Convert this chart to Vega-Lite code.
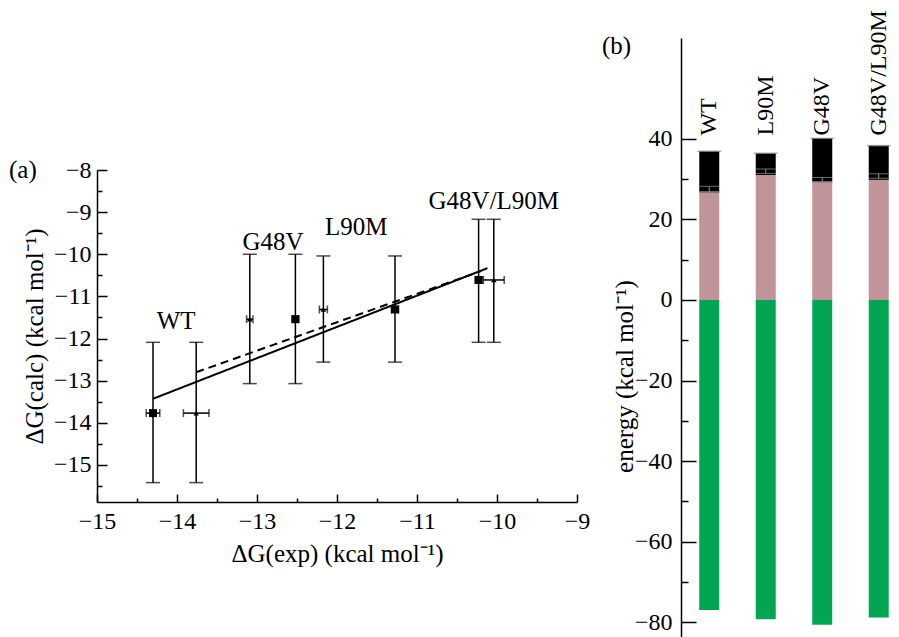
{
  "$schema": "https://vega.github.io/schema/vega-lite/v6.json",
  "background": "white",
  "padding": {"left": 8, "top": 10, "right": 0, "bottom": 0},
  "spacing": 11,
  "config": {
    "view": {"stroke": null},
    "font": "Liberation Serif",
    "axis": {
      "labelFont": "Liberation Serif", "labelFontSize": 24, "labelColor": "black",
      "titleFont": "Liberation Serif", "titleFontSize": 25, "titleFontWeight": "normal", "titleColor": "black",
      "domainColor": "black", "tickColor": "black", "domainWidth": 1.5, "tickWidth": 1.5,
      "grid": false, "labelFlush": false, "labelOverlap": false, "tickCount": 100
    },
    "text": {"font": "Liberation Serif", "fontSize": 25, "color": "black"}
  },
  "datasets": {
    "points": [
      {"variant": "WT", "shape": "square", "exp": -14.30, "calc": -13.77, "calc_lo": -15.42, "calc_hi": -12.09, "exp_lo": -14.385, "exp_hi": -14.215},
      {"variant": "WT", "shape": "triangle", "exp": -13.76, "calc": -13.77, "calc_lo": -15.42, "calc_hi": -12.09, "exp_lo": -13.92, "exp_hi": -13.60},
      {"variant": "G48V", "shape": "triangle", "exp": -13.09, "calc": -11.54, "calc_lo": -13.07, "calc_hi": -10.0, "exp_lo": -13.13, "exp_hi": -13.05},
      {"variant": "G48V", "shape": "square", "exp": -12.52, "calc": -11.54, "calc_lo": -13.07, "calc_hi": -10.0, "exp_lo": -12.56, "exp_hi": -12.48},
      {"variant": "L90M", "shape": "triangle", "exp": -12.17, "calc": -11.31, "calc_lo": -12.56, "calc_hi": -10.04, "exp_lo": -12.22, "exp_hi": -12.12},
      {"variant": "L90M", "shape": "square", "exp": -11.275, "calc": -11.31, "calc_lo": -12.56, "calc_hi": -10.04, "exp_lo": -11.32, "exp_hi": -11.23},
      {"variant": "G48V/L90M", "shape": "square", "exp": -10.23, "calc": -10.61, "calc_lo": -12.09, "calc_hi": -9.17, "exp_lo": -10.27, "exp_hi": -10.19},
      {"variant": "G48V/L90M", "shape": "triangle", "exp": -10.04, "calc": -10.61, "calc_lo": -12.09, "calc_hi": -9.17, "exp_lo": -10.17, "exp_hi": -9.91}
    ],
    "fits": [
      {"fit": "solid", "exp": -14.30, "calc": -13.43},
      {"fit": "solid", "exp": -10.12, "calc": -10.33},
      {"fit": "dashed", "exp": -13.76, "calc": -12.80},
      {"fit": "dashed", "exp": -10.20, "calc": -10.40}
    ],
    "labelsA": [
      {"text": "WT", "exp": -14.01, "calc": -11.58},
      {"text": "G48V", "exp": -12.80, "calc": -9.71},
      {"text": "L90M", "exp": -11.76, "calc": -9.36},
      {"text": "G48V/L90M", "exp": -10.04, "calc": -8.74}
    ],
    "bars": [
      {"variant": "WT", "pos": 1, "green": -76.9, "pink": 26.7, "err_lo": 26.9, "err_hi": 28.2, "top": 36.9},
      {"variant": "L90M", "pos": 2, "green": -79.2, "pink": 31.0, "err_lo": 31.4, "err_hi": 32.5, "top": 36.4},
      {"variant": "G48V", "pos": 3, "green": -80.6, "pink": 29.2, "err_lo": 29.4, "err_hi": 30.4, "top": 40.1},
      {"variant": "G48V/L90M", "pos": 4, "green": -78.8, "pink": 29.8, "err_lo": 30.2, "err_hi": 31.3, "top": 38.3}
    ]
  },
  "hconcat": [
    {
      "spacing": 10,
      "vconcat": [
        {
          "width": 480,
          "height": 110,
          "data": {"values": [{}]},
          "mark": {"type": "text", "text": ""},
          "encoding": {}
        },
        {
          "width": 480,
          "height": 332,
          "layer": [
            {
              "data": {"name": "points"},
              "mark": {"type": "rule", "color": "black", "strokeWidth": 1.5},
              "encoding": {
                "x": {"field": "exp", "type": "quantitative",
                  "scale": {"domain": [-15, -9], "nice": false, "zero": false, "padding": 0},
                  "axis": {
                    "title": "ΔG(exp) (kcal mol⁻¹)",
                    "format": ".0f",
                    "values": [-15, -14.5, -14, -13.5, -13, -12.5, -12, -11.5, -11, -10.5, -10, -9.5, -9],
                    "labelExpr": "round(datum.value) == datum.value ? datum.label : ''",
                    "tickSize": {"condition": {"test": "round(datum.value) == datum.value", "value": -8}, "value": -4},
                    "labelPadding": 15,
                    "titlePadding": 4
                  }},
                "y": {"field": "calc_lo", "type": "quantitative",
                  "scale": {"domain": [-15.88, -8], "nice": false, "zero": false, "padding": 0},
                  "axis": {
                    "title": "ΔG(calc) (kcal mol⁻¹)",
                    "format": ".0f",
                    "values": [-15.5, -15, -14.5, -14, -13.5, -13, -12.5, -12, -11.5, -11, -10.5, -10, -9.5, -9, -8.5, -8],
                    "labelExpr": "round(datum.value) == datum.value ? datum.label : ''",
                    "tickSize": {"condition": {"test": "round(datum.value) == datum.value", "value": -10}, "value": -5},
                    "labelPadding": 16,
                    "titlePadding": 6
                  }},
                "y2": {"field": "calc_hi"}
              }
            },
            {
              "data": {"name": "points"},
              "mark": {"type": "tick", "orient": "horizontal", "size": 14, "thickness": 1.5, "color": "black"},
              "encoding": {"x": {"field": "exp", "type": "quantitative"}, "y": {"field": "calc_lo", "type": "quantitative"}}
            },
            {
              "data": {"name": "points"},
              "mark": {"type": "tick", "orient": "horizontal", "size": 14, "thickness": 1.5, "color": "black"},
              "encoding": {"x": {"field": "exp", "type": "quantitative"}, "y": {"field": "calc_hi", "type": "quantitative"}}
            },
            {
              "data": {"name": "points"},
              "mark": {"type": "rule", "color": "black", "strokeWidth": 1.5},
              "encoding": {"x": {"field": "exp_lo", "type": "quantitative"}, "x2": {"field": "exp_hi"}, "y": {"field": "calc", "type": "quantitative"}}
            },
            {
              "data": {"name": "points"},
              "mark": {"type": "tick", "orient": "vertical", "size": 8, "thickness": 1.5, "color": "black"},
              "encoding": {"x": {"field": "exp_lo", "type": "quantitative"}, "y": {"field": "calc", "type": "quantitative"}}
            },
            {
              "data": {"name": "points"},
              "mark": {"type": "tick", "orient": "vertical", "size": 8, "thickness": 1.5, "color": "black"},
              "encoding": {"x": {"field": "exp_hi", "type": "quantitative"}, "y": {"field": "calc", "type": "quantitative"}}
            },
            {
              "data": {"name": "points"},
              "transform": [{"filter": "datum.shape === 'square'"}],
              "mark": {"type": "square", "size": 64, "color": "black", "opacity": 1},
              "encoding": {"x": {"field": "exp", "type": "quantitative"}, "y": {"field": "calc", "type": "quantitative"}}
            },
            {
              "data": {"name": "points"},
              "transform": [{"filter": "datum.shape === 'triangle'"}],
              "mark": {"type": "point", "shape": "triangle-up", "size": 30, "filled": true, "color": "black", "opacity": 1},
              "encoding": {"x": {"field": "exp", "type": "quantitative"}, "y": {"field": "calc", "type": "quantitative"}}
            },
            {
              "data": {"name": "fits"},
              "mark": {"type": "line", "color": "black", "strokeWidth": 2},
              "encoding": {
                "x": {"field": "exp", "type": "quantitative"},
                "y": {"field": "calc", "type": "quantitative"},
                "detail": {"field": "fit"},
                "strokeDash": {"field": "fit", "type": "nominal", "scale": {"domain": ["solid", "dashed"], "range": [[1, 0], [8, 5]]}, "legend": null}
              }
            },
            {
              "data": {"name": "labelsA"},
              "mark": {"type": "text", "align": "center", "baseline": "middle"},
              "encoding": {"x": {"field": "exp", "type": "quantitative"}, "y": {"field": "calc", "type": "quantitative"}, "text": {"field": "text"}}
            },
            {
              "data": {"values": [{}]},
              "mark": {"type": "text", "align": "left", "baseline": "middle"},
              "encoding": {"x": {"datum": -16.1}, "y": {"datum": -8.0}, "text": {"value": "(a)"}}
            }
          ]
        }
      ]
    },
    {
      "width": 217,
      "height": 598.5,
      "data": {"name": "bars"},
      "layer": [
        {
          "mark": {"type": "bar", "size": 20, "color": "#00a651"},
          "encoding": {
            "x": {"field": "pos", "type": "quantitative", "scale": {"domain": [0.5, 4.341], "nice": false, "zero": false, "padding": 0}, "axis": null},
            "y": {"field": "green", "type": "quantitative",
              "scale": {"domain": [-83.5, 65], "nice": false, "zero": false, "padding": 0},
              "axis": {
                "title": "energy (kcal mol⁻¹)",
                "values": [-80, -70, -60, -50, -40, -30, -20, -10, 0, 10, 20, 30, 40],
                "labelExpr": "datum.value % 20 === 0 ? datum.label : ''",
                "tickSize": {"condition": {"test": "datum.value % 20 === 0", "value": -15}, "value": -7},
                "labelPadding": 24,
                "titlePadding": -3,
                "titleY": 338
              }},
            "y2": {"datum": 0}
          }
        },
        {
          "mark": {"type": "bar", "size": 20, "color": "#c1949a"},
          "encoding": {"x": {"field": "pos", "type": "quantitative"}, "y": {"field": "pink", "type": "quantitative"}, "y2": {"datum": 0}}
        },
        {
          "mark": {"type": "bar", "size": 20, "color": "black"},
          "encoding": {"x": {"field": "pos", "type": "quantitative"}, "y": {"field": "top", "type": "quantitative"}, "y2": {"field": "pink"}}
        },
        {
          "mark": {"type": "rule", "color": "#9a9a9a", "strokeWidth": 1},
          "encoding": {"x": {"field": "pos", "type": "quantitative"}, "y": {"field": "err_lo", "type": "quantitative"}, "y2": {"field": "err_hi"}}
        },
        {
          "mark": {"type": "tick", "orient": "horizontal", "size": 20, "thickness": 1, "color": "#9a9a9a"},
          "encoding": {"x": {"field": "pos", "type": "quantitative"}, "y": {"field": "err_lo", "type": "quantitative"}}
        },
        {
          "mark": {"type": "tick", "orient": "horizontal", "size": 20, "thickness": 1, "color": "#9a9a9a"},
          "encoding": {"x": {"field": "pos", "type": "quantitative"}, "y": {"field": "err_hi", "type": "quantitative"}}
        },
        {
          "mark": {"type": "tick", "orient": "horizontal", "size": 24, "thickness": 1.5, "color": "#8a8a8a"},
          "encoding": {"x": {"field": "pos", "type": "quantitative"}, "y": {"field": "top", "type": "quantitative"}}
        },
        {
          "mark": {"type": "text", "angle": 270, "align": "left", "baseline": "middle", "fontSize": 24},
          "encoding": {"x": {"field": "pos", "type": "quantitative"}, "y": {"datum": 40.8}, "text": {"field": "variant"}}
        },
        {
          "data": {"values": [{}]},
          "mark": {"type": "text", "align": "left", "baseline": "middle"},
          "encoding": {"x": {"datum": -0.9}, "y": {"datum": 63.1}, "text": {"value": "(b)"}}
        }
      ]
    }
  ]
}
